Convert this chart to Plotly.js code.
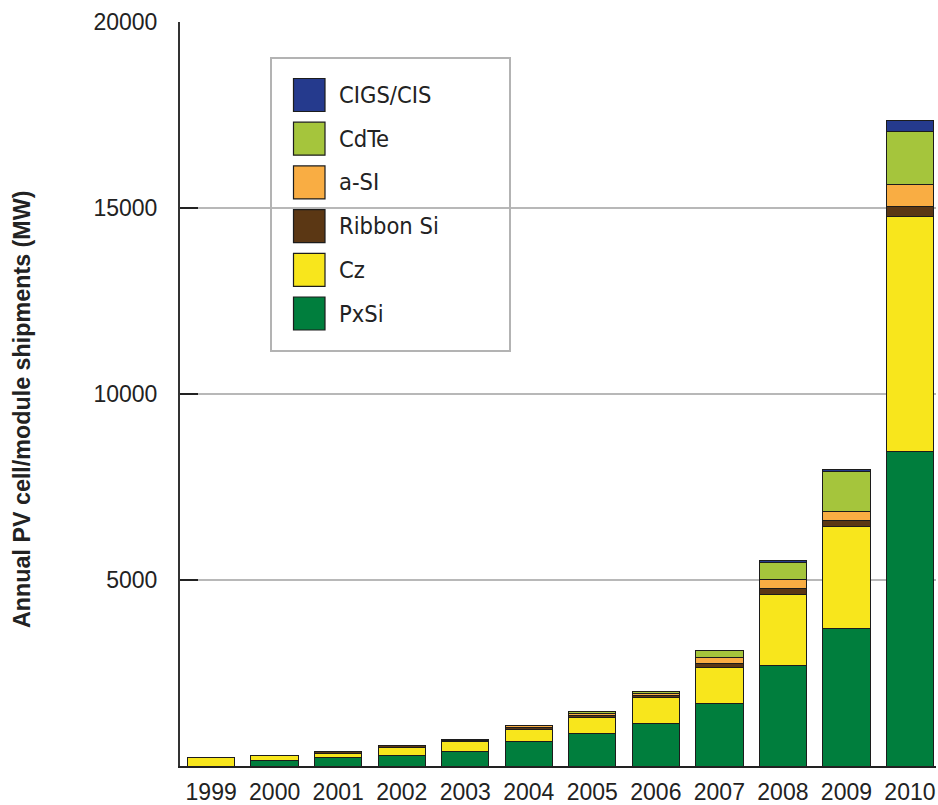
<!DOCTYPE html>
<html>
<head>
<meta charset="utf-8">
<script src="https://cdn.plot.ly/plotly-3.0.1.min.js"></script>
<style>
html,body{margin:0;padding:0;background:#fff;}
#chart{width:938px;height:805px;}
</style>
</head>
<body>
<div id="chart"></div>
<script>
// ---- data (MW) ----
const years = ['1999','2000','2001','2002','2003','2004','2005','2006','2007','2008','2009','2010'];
const PxSi   = [0, 160, 225, 270, 385, 653, 878, 1147, 1685, 2715, 3691, 8449];
const Cz     = [225, 115, 115, 233, 278, 331, 430, 699, 968, 1900, 2742, 6317];
const Ribbon = [0, 0, 54, 35, 30, 45, 62, 54, 108, 161, 179, 269];
const aSi    = [0, 0, 0, 20, 25, 62, 54, 62, 152, 250, 224, 609];
const CdTe   = [0, 0, 0, 0, 0, 0, 45, 54, 188, 448, 1075, 1406];
const CIGS   = [0, 0, 0, 0, 0, 0, 0, 0, 0, 45, 63, 314];
const seriesNames = ['PxSi', 'Cz', 'Ribbon Si', 'a-SI', 'CdTe', 'CIGS/CIS'];
const seriesValues = [PxSi, Cz, Ribbon, aSi, CdTe, CIGS];
const yTicks = [5000, 10000, 15000, 20000];
const yTitle = 'Annual PV cell/module shipments (MW)';

// ---- styles ----
const colors = ['#007e3d', '#f8e61c', '#5b3714', '#f9ad43', '#a5c53c', '#253a8d'];

const W = 938, H = 805;
const mL = 180, mR = 2, mT = 22, mB = 39;
const pw = W - mL - mR, ph = H - mT - mB;
const px2x = p => (p - mL) / pw;
const px2y = p => (H - mB - p) / ph;

const traces = seriesNames.map((n, i) => ({
  type: 'bar',
  name: n,
  x: years,
  y: seriesValues[i],
  marker: {color: colors[i], line: {color: '#1c1c1c', width: 1}},
  showlegend: false,
  hoverinfo: 'x+y+name'
}));

// manual legend (top item first)
const shapes = [{
  type: 'rect', xref: 'paper', yref: 'paper',
  x0: px2x(271), x1: px2x(510), y0: px2y(58), y1: px2y(351),
  line: {color: '#b3b3b3', width: 2}, fillcolor: 'rgba(255,255,255,0)'
}];
const annotations = [];
const order = [5, 4, 3, 2, 1, 0];
order.forEach((si, k) => {
  const top = 78.5 + k * 43.7;
  shapes.push({
    type: 'rect', xref: 'paper', yref: 'paper',
    x0: px2x(293.5), x1: px2x(325), y0: px2y(top), y1: px2y(top + 33),
    fillcolor: colors[si], line: {color: '#1c1c1c', width: 1.2}
  });
  annotations.push({
    xref: 'paper', yref: 'paper', x: px2x(337), y: px2y(top + 16.5),
    xanchor: 'left', yanchor: 'middle', showarrow: false,
    text: seriesNames[si],
    font: {family: 'DejaVu Sans Condensed, Liberation Sans Narrow, sans-serif', size: 23.5, color: '#222'}
  });
});
annotations.push({
  xref: 'paper', yref: 'paper', x: px2x(22), y: px2y(409),
  xanchor: 'center', yanchor: 'middle', showarrow: false, textangle: -90,
  text: '<b>' + yTitle + '</b>',
  font: {family: 'Liberation Sans, Arial, sans-serif', size: 23.3, color: '#222'}
});

const layout = {
  width: W, height: H,
  margin: {l: mL, r: mR, t: mT, b: mB, pad: 0},
  paper_bgcolor: '#fff', plot_bgcolor: '#fff',
  barmode: 'stack',
  bargap: 0.255,
  showlegend: false,
  font: {family: 'Liberation Sans, Arial, sans-serif', size: 23, color: '#222'},
  xaxis: {
    type: 'category',
    range: [-0.49, 11.41],
    showline: true, linecolor: '#222', linewidth: 2,
    ticks: '', showgrid: false, zeroline: false,
    tickfont: {size: 23, color: '#222'},
    ticklabelstandoff: 4
  },
  yaxis: {
    range: [0, 20000],
    tickvals: yTicks,
    ticktext: yTicks.map(String),
    showline: true, linecolor: '#333', linewidth: 2,
    ticks: 'inside', ticklen: 18, tickwidth: 2, tickcolor: '#222',
    showgrid: true, gridcolor: '#b8b8b8', gridwidth: 1.2,
    zeroline: false,
    tickfont: {size: 23, color: '#222'},
    ticklabelstandoff: 16
  },
  shapes: shapes,
  annotations: annotations
};

Plotly.newPlot('chart', traces, layout, {displayModeBar: false, staticPlot: true});
</script>
</body>
</html>
